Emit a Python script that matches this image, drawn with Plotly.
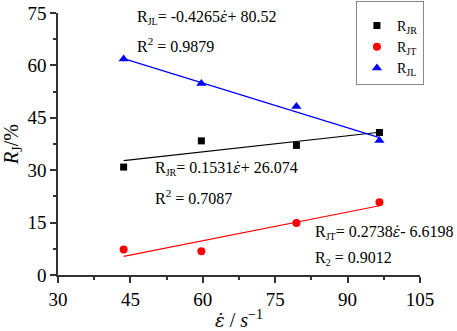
import plotly.graph_objects as go

# data
strain_rate = [43.6, 59.7, 79.4, 96.6]
R_JR = [30.9, 38.4, 37.1, 40.8]
R_JT = [7.3, 6.8, 14.9, 20.8]
R_JL = [61.8, 54.8, 48.2, 38.5]

# fitted line coefficients (slope, intercept) as printed on the chart
fit_JR = (0.1531, 26.074)
fit_JT = (0.2738, -6.6198)
fit_JL = (-0.4265, 80.52)

x_ticks = [30, 45, 60, 75, 90, 105]
y_ticks = [0, 15, 30, 45, 60, 75]

FONT = "Liberation Serif, Times New Roman, serif"
xs = [min(strain_rate), max(strain_rate)]

fig = go.Figure()

def add_series(name, y, color, symbol, size, fit):
    fig.add_trace(go.Scatter(x=xs, y=[fit[0] * v + fit[1] for v in xs], mode="lines",
                             line=dict(color=color, width=1.2), showlegend=False, hoverinfo="skip"))
    fig.add_trace(go.Scatter(x=strain_rate, y=y, mode="markers", name=name,
                             marker=dict(color=color, symbol=symbol, size=size)))

sub = lambda s: "<sub><span style='font-size:10px'>%s</span></sub>" % s
add_series("R" + sub("JR"), R_JR, "black", "square", 7, fit_JR)
add_series("R" + sub("JT"), R_JT, "red", "circle", 8, fit_JT)
add_series("R" + sub("JL"), R_JL, "blue", "triangle-up", 9, fit_JL)

edot = "<span style='font-family:DejaVu Serif;font-size:14px'><i>ε̇</i></span>"
annos = [
    (135, 17, "R%s= -0.4265%s+ 80.52" % (sub("JL"), edot)),
    (135, 45, "R<sup>2</sup> = 0.9879"),
    (153, 168, "R%s= 0.1531%s+ 26.074" % (sub("JR"), edot)),
    (153, 197, "R<sup>2</sup> = 0.7087"),
    (313, 232, "R%s= 0.2738%s- 6.6198" % (sub("JT"), edot)),
    (313, 258, "R%s = 0.9012" % sub("2")),
]
L, R, T, B, W, H = 58, 37, 13, 56, 457, 331
pw, ph = W - L - R, H - T - B
for px, py, txt in annos:
    fig.add_annotation(x=(px - L) / pw, y=1 - (py - T) / ph, xref="paper", yref="paper",
                       text=txt, showarrow=False, xanchor="left", yanchor="middle",
                       font=dict(family=FONT, size=16, color="black"))

axis_common = dict(showgrid=False, zeroline=False, showline=True, linecolor="#333",
                   linewidth=1.5, ticks="outside", ticklen=6, tickwidth=1.5, tickcolor="#333",
                   automargin=False,
                   tickfont=dict(family=FONT, size=19, color="black"))

fig.update_xaxes(range=[30, 105], tickvals=x_ticks, minor=dict(ticks="outside", ticklen=3, dtick=7.5, tick0=30, tickcolor="#333"),
                 title=dict(text="<span style='font-family:DejaVu Serif;font-size:18px'><i>ε̇</i></span> / <i>s</i><sup>−1</sup>",
                            font=dict(family=FONT, size=20, color="black"), standoff=6),
                 **axis_common)
fig.update_yaxes(range=[0, 75], tickvals=y_ticks, minor=dict(ticks="outside", ticklen=3, dtick=7.5, tick0=0, tickcolor="#333"),
                 title=dict(text="<i>R</i><sub>J</sub>/%", font=dict(family=FONT, size=20, color="black"), standoff=4),
                 **axis_common)

fig.update_layout(width=W, height=H, margin=dict(l=L, r=R, t=T, b=B, autoexpand=False),
                  plot_bgcolor="white", paper_bgcolor="white",
                  legend=dict(x=0.823, y=1.045, xanchor="left", yanchor="top", bordercolor="#888",
                              borderwidth=1, bgcolor="white", font=dict(family=FONT, size=14, color="black"),
                              title=dict(text=" ", font=dict(size=6)),
                              itemwidth=30, tracegroupgap=0))
fig.write_html("out.html", config={"displayModeBar": False},
               post_script="document.body.style.margin='0';document.body.style.overflow='hidden';")
